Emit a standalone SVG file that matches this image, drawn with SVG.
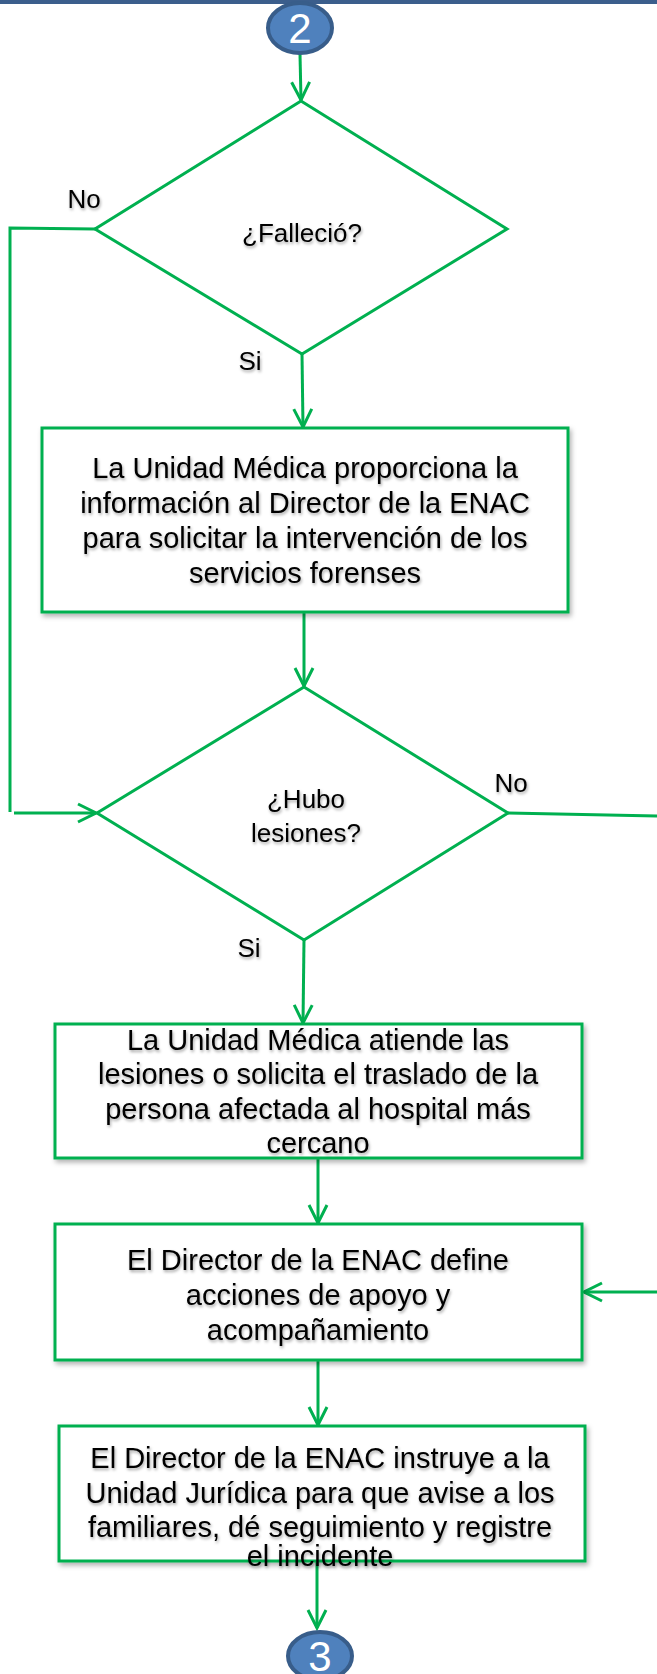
<svg xmlns="http://www.w3.org/2000/svg" width="657" height="1674" viewBox="0 0 657 1674">
<style>
.c{fill:none;stroke:#00b050;stroke-width:3}
.box{fill:#fff;stroke:#00b050;stroke-width:3;filter:url(#bs)}
.dia{fill:#fff;stroke:#00b050;stroke-width:3}
.t{font-family:"Liberation Sans",Arial,sans-serif;font-size:29px;fill:#000;text-anchor:middle;filter:url(#ts)}
.l{font-family:"Liberation Sans",Arial,sans-serif;font-size:26px;fill:#000;text-anchor:middle;filter:url(#ts)}
.conn{fill:#4f81bd;stroke:#385d8a;stroke-width:4}
.ct{font-family:"Liberation Sans",Arial,sans-serif;font-size:42px;fill:#fff;text-anchor:middle}
</style>
<defs>
<filter id="ts" x="-10%" y="-30%" width="120%" height="170%"><feDropShadow dx="1" dy="2" stdDeviation="1.6" flood-color="#000" flood-opacity="0.35"/></filter>
<filter id="bs" x="-5%" y="-5%" width="115%" height="120%"><feDropShadow dx="2" dy="3" stdDeviation="2.5" flood-color="#000" flood-opacity="0.3"/></filter>
<marker id="ar" viewBox="0 0 24 24" refX="21" refY="12" markerWidth="24" markerHeight="24" markerUnits="userSpaceOnUse" orient="auto"><path d="M3,3 L21,12 L3,21" fill="none" stroke="#00b050" stroke-width="3"/></marker>
</defs>
<rect x="0" y="0" width="657" height="4" fill="#3b5e8c"/>
<g id="connectors">
<line class="c" x1="300" y1="54" x2="301" y2="100" marker-end="url(#ar)"/>
<line class="c" x1="302" y1="354" x2="303" y2="427" marker-end="url(#ar)"/>
<polyline class="c" points="95,229 10,228 10,812"/>
<line class="c" x1="14" y1="813" x2="96" y2="813" marker-end="url(#ar)"/>
<line class="c" x1="304" y1="612" x2="304" y2="686" marker-end="url(#ar)"/>
<line class="c" x1="508" y1="813" x2="657" y2="816"/>
<line class="c" x1="304" y1="940" x2="303" y2="1023" marker-end="url(#ar)"/>
<line class="c" x1="318" y1="1158" x2="318" y2="1223" marker-end="url(#ar)"/>
<line class="c" x1="657" y1="1292" x2="584" y2="1292" marker-end="url(#ar)"/>
<line class="c" x1="318" y1="1360" x2="318" y2="1425" marker-end="url(#ar)"/>
<line class="c" x1="317" y1="1561" x2="317" y2="1628" marker-end="url(#ar)"/>
</g>
<g id="start">
<ellipse class="conn" cx="300" cy="28" rx="32" ry="25"/>
<text class="ct" x="300" y="43">2</text>
</g>
<g id="d1">
<polygon class="dia" points="301,101 507,229 302,354 95,229"/>
<text class="l" x="302" y="242">¿Falleció?</text>
</g>
<g id="lbl-no1"><text class="l" x="84" y="208">No</text></g>
<g id="lbl-si1"><text class="l" x="250" y="370">Si</text></g>
<g id="b1">
<rect class="box" x="42" y="428" width="526" height="184"/>
<text class="t" x="305" y="478">La Unidad Médica proporciona la</text>
<text class="t" x="305" y="513">información al Director de la ENAC</text>
<text class="t" x="305" y="548">para solicitar la intervención de los</text>
<text class="t" x="305" y="583">servicios forenses</text>
</g>
<g id="d2">
<polygon class="dia" points="304,687 508,813 304,940 97,813"/>
<text class="l" x="306" y="808">¿Hubo</text>
<text class="l" x="306" y="842">lesiones?</text>
</g>
<g id="lbl-no2"><text class="l" x="511" y="792">No</text></g>
<g id="lbl-si2"><text class="l" x="249" y="957">Si</text></g>
<g id="b2">
<rect class="box" x="55" y="1024" width="527" height="134"/>
<text class="t" x="318" y="1050">La Unidad Médica atiende las</text>
<text class="t" x="318" y="1084">lesiones o solicita el traslado de la</text>
<text class="t" x="318" y="1119">persona afectada al hospital más</text>
<text class="t" x="318" y="1153">cercano</text>
</g>
<g id="b3">
<rect class="box" x="55" y="1224" width="527" height="136"/>
<text class="t" x="318" y="1270">El Director de la ENAC define</text>
<text class="t" x="318" y="1305">acciones de apoyo y</text>
<text class="t" x="318" y="1340">acompañamiento</text>
</g>
<g id="b4">
<rect class="box" x="59" y="1426" width="526" height="135"/>
<text class="t" x="320" y="1468">El Director de la ENAC instruye a la</text>
<text class="t" x="320" y="1503">Unidad Jurídica para que avise a los</text>
<text class="t" x="320" y="1537">familiares, dé seguimiento y registre</text>
<text class="t" x="320" y="1566">el incidente</text>
</g>
<g id="end">
<ellipse class="conn" cx="320" cy="1656" rx="32" ry="24"/>
<text class="ct" x="320" y="1671">3</text>
</g>
</svg>
